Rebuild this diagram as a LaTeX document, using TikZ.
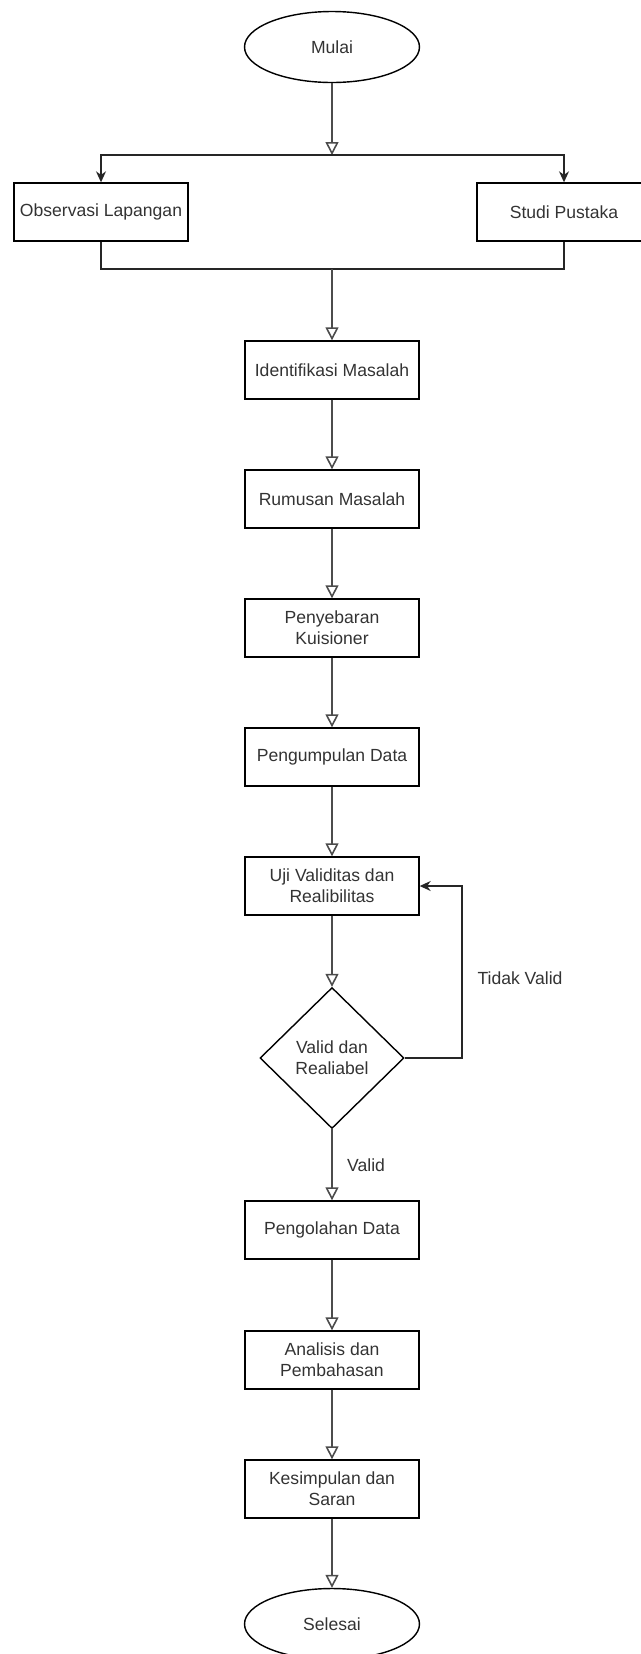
\documentclass[tikz,border=0pt]{standalone}
\usepackage{fontspec}
\setmainfont{Liberation Sans}
\usetikzlibrary{shapes,arrows.meta,calc}

\tikzset{
  proses/.style={draw, line width=0.8pt, minimum width=3.48cm, minimum height=1.16cm, inner sep=2pt, align=center, text=black!80, font=\fontsize{10}{12}\selectfont},
  terminal/.style={proses, ellipse, minimum width=3.5cm, minimum height=1.42cm},
  keputusan/.style={proses, diamond, aspect=1, minimum width=2.88cm, minimum height=2.82cm, inner sep=0pt},
  label/.style={text=black!80, font=\fontsize{10}{12}\selectfont},
  garis/.style={draw=black!85, line width=0.85pt},
  alur/.style={draw=black!70, line width=0.9pt, -{Triangle[open, length=0.26cm, width=0.26cm]}},
  cabang/.style={garis, -{Stealth[length=0.22cm, width=0.2cm]}},
}

\begin{document}
\begin{tikzpicture}[x=0.02cm, y=-0.02cm]
    \useasboundingbox (0,0) rectangle (641,1654);

    % terminal dan proses
    \node[terminal] (mulai) at (332,47) {Mulai};
    \node[proses] (observasi) at (101,212) {Observasi Lapangan};
    \node[proses] (studi) at (564,212) {Studi Pustaka};
    \node[proses] (identifikasi) at (332,370) {Identifikasi Masalah};
    \node[proses] (rumusan) at (332,499) {Rumusan Masalah};
    \node[proses] (penyebaran) at (332,628) {Penyebaran\\Kuisioner};
    \node[proses] (pengumpulan) at (332,757) {Pengumpulan Data};
    \node[proses] (uji) at (332,886) {Uji Validitas dan\\Realibilitas};
    \node[keputusan] (cek) at (332,1058) {Valid dan\\Realiabel};
    \node[proses] (pengolahan) at (332,1230) {Pengolahan Data};
    \node[proses] (analisis) at (332,1360) {Analisis dan\\Pembahasan};
    \node[proses] (kesimpulan) at (332,1489) {Kesimpulan dan\\Saran};
    \node[terminal] (selesai) at (332,1624) {Selesai};

    \coordinate (pisah) at (332,155);
    \coordinate (gabung) at (332,269);
    \coordinate (balik) at (462,1058);

    % cabang ke observasi dan studi pustaka
    \draw[alur] (mulai) -- (pisah);
    \draw[cabang] (pisah) -| (observasi.north);
    \draw[cabang] (pisah) -| (studi.north);
    \draw[garis] (observasi.south) |- (gabung) -| (studi.south);
    \draw[alur] (gabung) -- (identifikasi);

    % alur utama
    \draw[alur] (identifikasi) -- (rumusan);
    \draw[alur] (rumusan) -- (penyebaran);
    \draw[alur] (penyebaran) -- (pengumpulan);
    \draw[alur] (pengumpulan) -- (uji);
    \draw[alur] (uji) -- (cek.north);
    \draw[alur] (cek.south) -- (pengolahan);
    \draw[alur] (pengolahan) -- (analisis);
    \draw[alur] (analisis) -- (kesimpulan);
    \draw[alur] (kesimpulan) -- (selesai);

    % kembali jika tidak valid
    \draw[cabang] (cek.east) -- (balik) |- (uji.east);

    \node[label, anchor=west] (valid) at (341,1165) {Valid};
    \node[label] (tidakvalid) at (520,978) {Tidak Valid};
\end{tikzpicture}
\end{document}
